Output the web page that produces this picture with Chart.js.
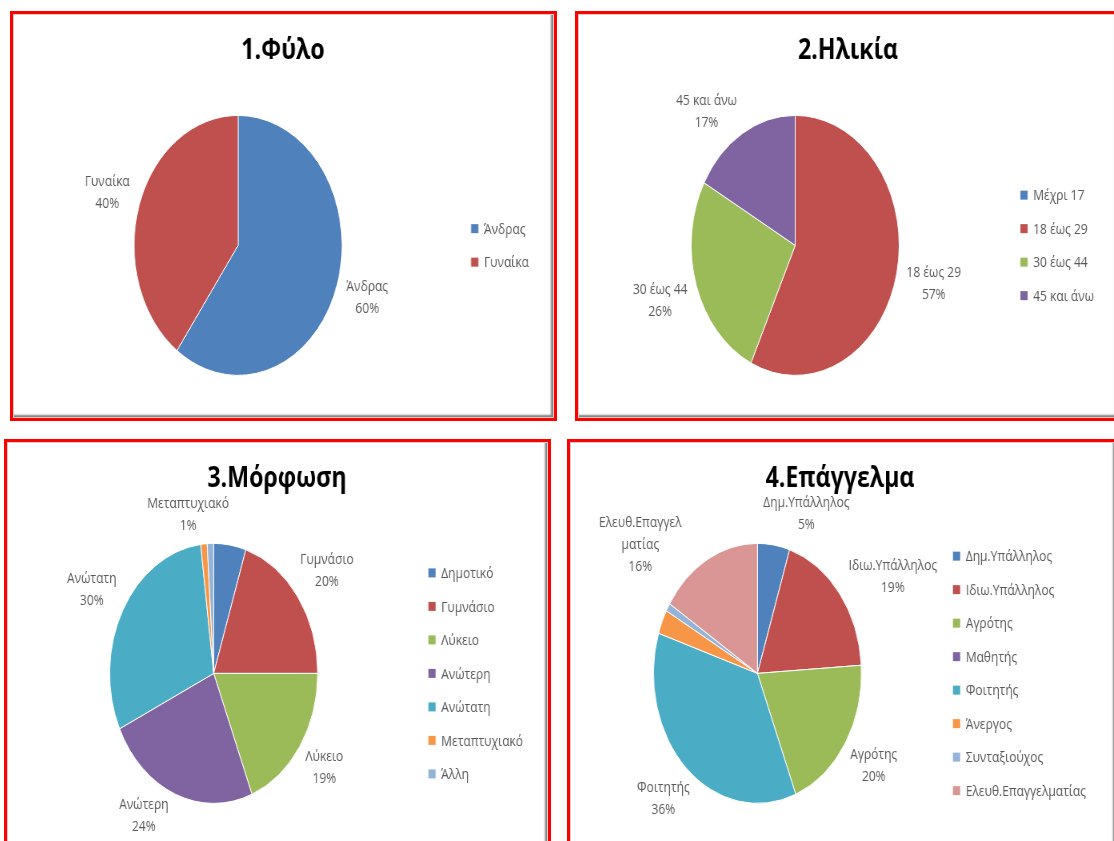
<!DOCTYPE html>
<html lang="el">
<head>
<meta charset="utf-8">
<title>Ερωτηματολόγιο - δημογραφικά</title>
<script src="https://cdn.jsdelivr.net/npm/chart.js@4.4.1/dist/chart.umd.min.js"></script>
<style>
  html, body { margin: 0; padding: 0; background: #fff; }
  body { width: 1114px; height: 841px; position: relative; overflow: hidden; }
  .panel { position: absolute; box-sizing: border-box; border: 3px solid #ff0000; background: #fff; }
  .panel .squash { position: absolute; left: 0; top: 0; transform: scaleX(0.8); transform-origin: 0 0; }
  .panel .frame {
    position: absolute; left: 0; top: 0; right: 0; bottom: 0;
    border: 1px solid #cfcfcf;
    box-shadow: inset -2px -2px 2px rgba(0, 0, 0, 0.5);
    pointer-events: none;
  }
</style>
</head>
<body>

<div class="panel" style="left:10px; top:11px; width:547px; height:410px;">
  <div class="squash"><canvas id="pie-gender" width="675" height="404"></canvas></div>
  <div class="frame"></div>
</div>
<div class="panel" style="left:575px; top:11px; width:546px; height:410px;">
  <div class="squash"><canvas id="pie-age" width="675" height="404"></canvas></div>
  <div class="frame"></div>
</div>
<div class="panel" style="left:4px; top:439px; width:547px; height:412px;">
  <div class="squash"><canvas id="pie-edu" width="675" height="404"></canvas></div>
  <div class="frame"></div>
</div>
<div class="panel" style="left:567px; top:439px; width:552px; height:412px;">
  <div class="squash"><canvas id="pie-job" width="675" height="404"></canvas></div>
  <div class="frame"></div>
</div>

<script>
// Percentages per question
const genderLabels = ['Άνδρας', 'Γυναίκα'];
const genderValues = [60, 40];

const ageLabels = ['Μέχρι 17', '18 έως 29', '30 έως 44', '45 και άνω'];
const ageValues = [0, 57, 26, 17];

const eduLabels = ['Δημοτικό', 'Γυμνάσιο', 'Λύκειο', 'Ανώτερη', 'Ανώτατη', 'Μεταπτυχιακό', 'Άλλη'];
const eduValues = [5, 20, 19, 24, 30, 1, 1];

const jobLabels = ['Δημ.Υπάλληλος', 'Ιδιω.Υπάλληλος', 'Αγρότης', 'Μαθητής', 'Φοιτητής', 'Άνεργος', 'Συνταξιούχος', 'Ελευθ.Επαγγελματίας'];
const jobValues = [5, 19, 20, 0, 36, 3, 1, 16];

// Text written next to each slice (null = slice has no label)
const genderSliceText = ['Άνδρας', 'Γυναίκα'];
const ageSliceText = [null, '18 έως 29', '30 έως 44', '45 και άνω'];
const eduSliceText = [null, 'Γυμνάσιο', 'Λύκειο', 'Ανώτερη', 'Ανώτατη', 'Μεταπτυχιακό', null];
const jobSliceText = ['Δημ.Υπάλληλος', 'Ιδιω.Υπάλληλος', 'Αγρότης', null, 'Φοιτητής', null, null, ['Ελευθ.Επαγγελ', 'ματίας']];

// Office palette
const PALETTE = ['#4F81BD', '#C0504D', '#9BBB59', '#8064A2', '#4BACC6', '#F79646', '#95B3D7', '#D99694'];

const FONT = '"Open Sans", "DejaVu Sans", sans-serif';
const TEXT_COLOR = '#595959';
const LABEL_SIZE = 15;
const LINE_H = 22;
const LEGEND_ROW = 33.5;

// Legend drawn as a layout box on the right, so the pie gets centred in what is left
const sideLegend = {
    id: 'sideLegend',
    beforeInit(chart) {
        const box = {
            position: 'right', weight: 0, fullSize: false, options: {},
            left: 0, top: 0, right: 0, bottom: 0, width: 0, height: 0,
            isHorizontal() { return false; },
            update(maxWidth, maxHeight) {
                const ctx = chart.ctx;
                ctx.save();
                ctx.font = LABEL_SIZE + 'px ' + FONT;
                let w = 0;
                chart.data.labels.forEach(function(l) { w = Math.max(w, ctx.measureText(l).width); });
                ctx.restore();
                this.width = Math.min(w + 56, maxWidth);
                this.height = maxHeight;
            },
            draw(area) {
                const ctx = chart.ctx;
                const labels = chart.data.labels;
                const colors = chart.data.datasets[0].backgroundColor;
                const midY = (area.top + area.bottom) / 2;
                ctx.save();
                ctx.font = LABEL_SIZE + 'px ' + FONT;
                ctx.textBaseline = 'middle';
                ctx.textAlign = 'left';
                for (let i = 0; i < labels.length; i++) {
                    let y = midY + (i - (labels.length - 1) / 2) * LEGEND_ROW;
                    ctx.fillStyle = colors[i];
                    ctx.fillRect(this.left + 10, y - 4.5, 9, 9);
                    ctx.fillStyle = TEXT_COLOR;
                    ctx.fillText(labels[i], this.left + 26, y + 1);
                }
                ctx.restore();
            }
        };
        Chart.layouts.addBox(chart, box);
    }
};

// Name + percentage outside each slice; nudge rotates a label by some degrees
function sliceLabels(texts, nudge) {
    return {
        id: 'sliceLabels',
        afterDatasetsDraw(chart) {
            const ctx = chart.ctx;
            const meta = chart.getDatasetMeta(0);
            const values = chart.data.datasets[0].data;
            ctx.save();
            ctx.font = LABEL_SIZE + 'px ' + FONT;
            ctx.fillStyle = TEXT_COLOR;
            ctx.textAlign = 'center';
            ctx.textBaseline = 'middle';
            for (let i = 0; i < meta.data.length; i++) {
                if (texts[i] == null) continue;
                let p = meta.data[i].getProps(['x', 'y', 'startAngle', 'endAngle', 'outerRadius'], true);
                let a = (p.startAngle + p.endAngle) / 2 + (nudge[i] || 0) * Math.PI / 180;
                let lines = [].concat(texts[i], values[i] + '%');
                let w = 0;
                lines.forEach(function(t) { w = Math.max(w, ctx.measureText(t).width); });
                let h = lines.length * LINE_H;
                let c = Math.cos(a), s = Math.sin(a);
                // labels above/below sit closer to the pie than those at the sides
                let d = p.outerRadius + 12 - 12 * Math.abs(s) + w / 2 * Math.abs(c) + h / 2 * Math.abs(s);
                let cx = p.x + c * d, cy = p.y + s * d;
                for (let k = 0; k < lines.length; k++) {
                    ctx.fillText(lines[k], cx, cy - h / 2 + LINE_H * (k + 0.5));
                }
            }
            ctx.restore();
        }
    };
}

function makePie(id, title, labels, values, texts, nudge) {
    return new Chart(document.getElementById(id), {
        type: 'pie',
        data: {
            labels: labels,
            datasets: [{
                data: values,
                backgroundColor: PALETTE.slice(0, labels.length),
                borderColor: '#ffffff',
                borderWidth: 1,
                hoverOffset: 0
            }]
        },
        options: {
            responsive: false,
            animation: false,
            events: [],
            radius: 130,
            layout: { padding: 0 },
            plugins: {
                legend: { display: false },
                tooltip: { enabled: false },
                title: {
                    display: true,
                    text: title,
                    color: '#000000',
                    font: { family: FONT, size: 29, weight: 'bold' },
                    padding: { top: 19, bottom: 5 }
                }
            }
        },
        plugins: [sideLegend, sliceLabels(texts, nudge)]
    });
}

makePie('pie-gender', '1.Φύλο', genderLabels, genderValues, genderSliceText, []);
makePie('pie-age', '2.Ηλικία', ageLabels, ageValues, ageSliceText, [0, 0, 0, -9]);
makePie('pie-edu', '3.Μόρφωση', eduLabels, eduValues, eduSliceText, [0, 0, 0, 10, 0, -6, 0]);
makePie('pie-job', '4.Επάγγελμα', jobLabels, jobValues, jobSliceText, [12, 8, 0, 0, 0, 0, 0, -20]);
</script>
</body>
</html>
